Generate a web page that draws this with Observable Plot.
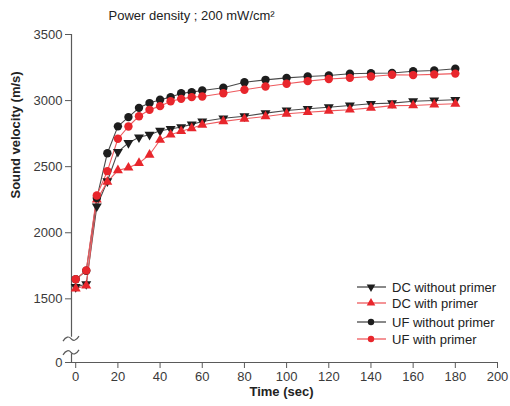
<!DOCTYPE html>
<html>
<head>
<meta charset="utf-8">
<script src="https://cdn.jsdelivr.net/npm/d3@7"></script>
<script src="https://cdn.jsdelivr.net/npm/@observablehq/plot@0.6"></script>
<style>
  html, body { margin: 0; padding: 0; background: #fff; overflow: hidden; }
  #chart { position: relative; width: 510px; height: 406px; font-family: "Liberation Sans", Arial, sans-serif; }
</style>
</head>
<body>
<div id="chart"></div>
<script>
// ---- data ----
const times = [0, 5, 10, 15, 20, 25, 30, 35, 40, 45, 50, 55, 60, 70, 80, 90, 100, 110, 120, 130, 140, 150, 160, 170, 180];
const dcWithoutPrimer = [1590, 1612, 2200, 2390, 2612, 2680, 2722, 2742, 2772, 2785, 2800, 2820, 2842, 2866, 2882, 2905, 2925, 2938, 2950, 2963, 2976, 2981, 2995, 3001, 3006];
const dcWithPrimer    = [1578, 1600, 2250, 2385, 2472, 2492, 2527, 2590, 2702, 2742, 2768, 2790, 2817, 2843, 2862, 2880, 2900, 2912, 2922, 2931, 2945, 2962, 2963, 2970, 2976];
const ufWithoutPrimer = [1648, 1712, 2262, 2602, 2805, 2875, 2945, 2981, 3006, 3026, 3056, 3064, 3076, 3097, 3139, 3157, 3172, 3182, 3190, 3203, 3207, 3209, 3222, 3228, 3241];
const ufWithPrimer    = [1648, 1715, 2282, 2466, 2711, 2804, 2882, 2930, 2958, 2995, 3013, 3026, 3031, 3056, 3082, 3107, 3127, 3147, 3163, 3172, 3182, 3196, 3193, 3198, 3204];
const seriesNames = ["DC without primer", "DC with primer", "UF without primer", "UF with primer"];
const xTicks = [0, 20, 40, 60, 80, 100, 120, 140, 160, 180, 200];
const yTicks = [0, 1500, 2000, 2500, 3000, 3500];
const titleText = "Power density ; 200 mW/cm²";
const xLabel = "Time (sec)";
const yLabel = "Sound velocity (m/s)";

// ---- styles ----
const BLACK = "#1d1d1d", RED = "#e8262c";
const styles = [
  {symbol: "triangle", rotate: 180, fill: BLACK, line: "#4a4a4a", r: 3.7},
  {symbol: "triangle", rotate: 0,   fill: RED,   line: "#ee5a5e", r: 3.7},
  {symbol: "circle",   rotate: 0,   fill: BLACK, line: "#4a4a4a", r: 4.2},
  {symbol: "circle",   rotate: 0,   fill: RED,   line: "#ee5a5e", r: 4.2}
];
const allValues = [dcWithoutPrimer, dcWithPrimer, ufWithoutPrimer, ufWithPrimer];
const series = seriesNames.map((name, i) => ({
  name, style: styles[i],
  rows: times.map((t, j) => ({t, v: allValues[i][j], name}))
}));

const W = 510, H = 406;
const mL = 71, mR = 13, mT = 34, mB = 44;
const xDomain = [-2, 200];
const yDomain = [0, 1100, 3500];
const yRange = [H - mB, 351.2, mT];
const breakTop = 1210, breakBottom = 880;
const axisColor = "#5a5a5a";

const marks = [];
// axis lines (broken y axis)
marks.push(Plot.ruleY([0], {stroke: axisColor, strokeWidth: 1.2}));
marks.push(Plot.ruleX([xDomain[0]], {y1: breakTop, y2: 3500, stroke: axisColor, strokeWidth: 1.2}));
marks.push(Plot.ruleX([xDomain[0]], {y1: 0, y2: breakBottom, stroke: axisColor, strokeWidth: 1.2}));
// axes
marks.push(Plot.axisX({ticks: xTicks, tickSize: 6, tickPadding: 3, fontSize: 13, color: "#3a3a3a", stroke: axisColor, label: null}));
marks.push(Plot.axisY({ticks: yTicks, tickSize: 6, tickPadding: 3, fontSize: 13, color: "#3a3a3a", stroke: axisColor, label: null, tickFormat: d => String(d)}));
// series
for (const s of series) {
  marks.push(Plot.line(s.rows, {x: "t", y: "v", stroke: s.style.line, strokeWidth: 1.1}));
}
for (const s of series) {
  marks.push(Plot.dot(s.rows, {x: "t", y: "v", symbol: s.style.symbol, rotate: s.style.rotate, r: s.style.r, fill: s.style.fill, stroke: "none"}));
}
// texts
marks.push(Plot.text([titleText], {frameAnchor: "top-left", dx: 37, dy: -19, textAnchor: "start", lineAnchor: "middle", fontSize: 13, fill: "#222"}));
marks.push(Plot.text([xLabel], {frameAnchor: "bottom", dx: -3, dy: 29, lineAnchor: "middle", fontSize: 13, fontWeight: "bold", fill: "#222"}));
marks.push(Plot.text([yLabel], {frameAnchor: "left", dx: -56, rotate: -90, lineAnchor: "middle", fontSize: 13, fontWeight: "bold", fill: "#222"}));

const plot = Plot.plot({
  width: W, height: H,
  marginLeft: mL, marginRight: mR, marginTop: mT, marginBottom: mB,
  style: {fontFamily: "'Liberation Sans', Arial, sans-serif", background: "#fff"},
  x: {domain: xDomain, type: "linear"},
  y: {domain: yDomain, range: yRange, type: "linear"},
  marks
});
document.getElementById("chart").appendChild(plot);

// ---- broken-axis tildes and legend (decorations) ----
const svg = d3.select(plot);
const xs = plot.scale("x"), ys = plot.scale("y");
const ax = xs.apply(xDomain[0]);
const tildePath = "M-8,2.5 C-5,-2.5 -2,-2.5 0,0 C2,2.5 5,2.5 8,-2.5";
for (const v of [breakTop, breakBottom]) {
  const py = ys.apply(v) + (v === breakTop ? 2 : -1);
  svg.append("path").attr("d", tildePath).attr("transform", `translate(${ax},${py})`)
    .attr("fill", "none").attr("stroke", axisColor).attr("stroke-width", 1.2);
}

const legendRows = [287, 303, 322, 339];
const lg = svg.append("g").attr("text-anchor", "start");
series.forEach((s, i) => {
  const y = legendRows[i];
  lg.append("line").attr("x1", 357).attr("x2", 386).attr("y1", y).attr("y2", y)
    .attr("stroke", s.style.line).attr("stroke-width", 1.3);
  const sym = d3.symbol(s.style.symbol === "circle" ? d3.symbolCircle : d3.symbolTriangle, Math.PI * 3.2 * 3.2)();
  lg.append("path").attr("d", sym).attr("fill", s.style.fill)
    .attr("transform", `translate(371,${y}) rotate(${s.style.rotate})`);
  lg.append("text").attr("x", 392).attr("y", y).attr("dy", "0.35em").attr("text-anchor", "start")
    .attr("font-size", 13).attr("fill", "#222").text(s.name);
});
</script>
</body>
</html>
